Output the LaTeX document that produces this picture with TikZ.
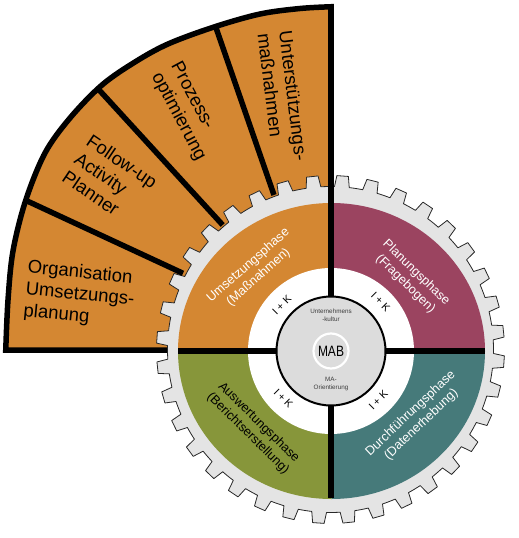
\documentclass[tikz,border=0pt]{standalone}
\usepackage{fontspec}
\setmainfont{Liberation Sans}
\usetikzlibrary{calc}
\definecolor{cOrange}{RGB}{212,135,50}
\definecolor{cMaroon}{RGB}{155,68,96}
\definecolor{cOlive}{RGB}{135,150,58}
\definecolor{cTeal}{RGB}{70,122,122}
\definecolor{cGear}{RGB}{228,228,228}
\definecolor{cCenter}{RGB}{220,220,220}
\definecolor{cSmall}{RGB}{60,60,60}
\def\myFanPath{(331,-350) -- plot[smooth,tension=0.55] coordinates {(5.75,-350) (8,-300) (13,-251) (25.5,-201) (45,-153) (70,-118) (102,-85) (135,-62) (168,-44) (214,-27) (260,-14) (300,-8.5) (331,-6.75)} -- cycle}
\tikzset{
  fanline/.style={line width=5.5pt, black},
  barline/.style={line width=5.5pt, black},
  gearshape/.style={fill=cGear, draw={rgb,255:red,40;green,40;blue,40}, line width=0.8pt, line join=round},
  fantext/.style={align=left, inner sep=0pt, font=\fontsize{18.5}{21.7}\selectfont},
  phasetext/.style={align=center, inner sep=0pt, text=white, font=\fontsize{12.7}{15.5}\selectfont},
  iktext/.style={inner sep=0pt, font=\fontsize{10.5}{12}\selectfont},
  smalltext/.style={align=center, inner sep=0pt, text=cSmall, font=\fontsize{6.3}{8}\selectfont}
}
\begin{document}
\begin{tikzpicture}[x=1pt,y=1pt]
\useasboundingbox (0,0) rectangle (519,-538);
% fan
\path[fill=cOrange, draw=black, line width=5.5pt] \myFanPath;
% gear
\begin{scope}[shift={(330.5,-349.5)}]
\draw[gearshape] (3.4:163) \foreach \k in {0,...,35}{ -- ({\k*10+4.1}:174) -- ({\k*10+7.9}:174) -- ({\k*10+8.6}:163) arc[start angle={\k*10+8.6}, end angle={\k*10+13.4}, radius=163] } -- cycle;
\end{scope}
% quadrants
\coordinate (O) at (331.5,-351);
\fill[cOrange] (O) -- ++(-153.5,0) arc[start angle=180, end angle=90, x radius=153.5, y radius=148] -- cycle;
\fill[cMaroon] (O) -- ++(0,148) arc[start angle=90, end angle=0, x radius=153.5, y radius=148] -- cycle;
\fill[cTeal] (O) -- ++(153.5,0) arc[start angle=0, end angle=-90, x radius=153.5, y radius=148] -- cycle;
\fill[cOlive] (O) -- ++(0,-148) arc[start angle=-90, end angle=-180, x radius=153.5, y radius=148] -- cycle;
\coordinate (M) at (331,-351);
\fill[white] (M) circle[radius=83];
% bars
\coordinate (hl) at (178,-351);
\coordinate (hr) at (485,-351);
\coordinate (vt) at (331,-6.75);
\coordinate (vb) at (331,-498);
\draw[barline] (hl) -- (hr);
\draw[barline] (vt) -- (vb);
% dividers
\coordinate (d1in) at (183,-273.3);
\coordinate (d1out) at (-20,-179.1);
\coordinate (d2in) at (222.7,-225);
\coordinate (d2out) at (60,-47.2);
\coordinate (d3in) at (274,-195);
\coordinate (d3out) at (202.9,10);
\begin{scope}
\clip \myFanPath;
\draw[fanline] (d1in) -- (d1out);
\draw[fanline] (d2in) -- (d2out);
\draw[fanline] (d3in) -- (d3out);
\end{scope}
% center
\draw[fill=cCenter, line width=2pt] (M) circle[radius=54.5];
\draw[white, line width=2.2pt] (M) circle[radius=17.5];
\node[inner sep=0pt, xscale=0.8, font=\fontsize{15}{17}\selectfont] (mab) at (M) {MAB};
\node[smalltext] (uk) at (331,-315.5) {Unternehmens\\-kultur};
\node[smalltext] (mao) at (331,-383.8) {MA-\\Orientierung};
% I + K
\node[iktext, rotate=45] (ik1) at (281.7,-305) {I + K};
\node[iktext, rotate=-45] (ik2) at (380.7,-301.7) {I + K};
\node[iktext, rotate=-45] (ik3) at (283.3,-398.3) {I + K};
\node[iktext, rotate=45] (ik4) at (378.3,-400) {I + K};
% phase labels
\node[phasetext, rotate=41.5] (p1) at (253.4,-271.4) {Umsetzungsphase\\(Maßnahmen)};
\node[phasetext, rotate=-44] (p2) at (410.8,-278.3) {Planungsphase\\(Fragebogen)};
\node[phasetext, rotate=-44.4, text=black] (p3) at (253.3,-428) {Auswertungsphase\\(Berichtserstellung)};
\node[phasetext, rotate=43.5] (p4) at (416,-419) {Durchführungsphase\\(Datenerhebung)};
% fan texts
\node[fantext, rotate=-5.5] (f1) at (80,-295) {Organisation\\Umsetzungs-\\planung};
\node[fantext, rotate=-34] (f2) at (110,-179.5) {Follow-up\\Activity\\Planner};
\node[fantext, rotate=-62] (f3) at (187.9,-111.6) {Prozess-\\optimierung};
\node[fantext, rotate=-83] (f4) at (282.5,-97.1) {Unterstützungs-\\maßnahmen};
\end{tikzpicture}
\end{document}
